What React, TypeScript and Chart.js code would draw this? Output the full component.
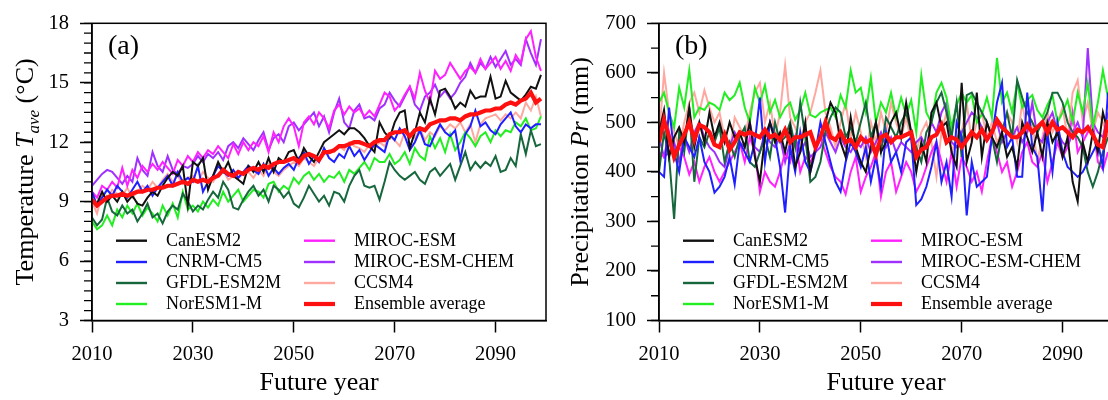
import React, { useEffect, useRef } from 'react';
import { Chart, registerables } from 'chart.js';

Chart.register(...registerables);

const SERIF = '"Liberation Serif", "Times New Roman", Times, serif';

// ---------- categories ----------
const years = [
  2010, 2011, 2012, 2013, 2014, 2015, 2016, 2017, 2018, 2019,
  2020, 2021, 2022, 2023, 2024, 2025, 2026, 2027, 2028, 2029,
  2030, 2031, 2032, 2033, 2034, 2035, 2036, 2037, 2038, 2039,
  2040, 2041, 2042, 2043, 2044, 2045, 2046, 2047, 2048, 2049,
  2050, 2051, 2052, 2053, 2054, 2055, 2056, 2057, 2058, 2059,
  2060, 2061, 2062, 2063, 2064, 2065, 2066, 2067, 2068, 2069,
  2070, 2071, 2072, 2073, 2074, 2075, 2076, 2077, 2078, 2079,
  2080, 2081, 2082, 2083, 2084, 2085, 2086, 2087, 2088, 2089,
  2090, 2091, 2092, 2093, 2094, 2095, 2096, 2097, 2098, 2099,
];

const seriesNames = [
  'CanESM2', 'CNRM-CM5', 'GFDL-ESM2M', 'NorESM1-M',
  'MIROC-ESM', 'MIROC-ESM-CHEM', 'CCSM4', 'Ensemble average',
];
const seriesColors = [
  '#111111', '#1f1fff', '#17673d', '#22ee22',
  '#ff22ff', '#a030ff', '#ffa8a0', '#ff1010',
];

const xTicks = [2010, 2030, 2050, 2070, 2090];
const tempTicks = [3, 6, 9, 12, 15, 18];
const precTicks = [100, 200, 300, 400, 500, 600, 700];

// ---------- (a) temperature, °C ----------
const tCanESM2 = [
  9.0, 8.9, 9.5, 9.0, 9.3, 9.0, 9.5, 9.0, 9.3, 8.9,
  8.8, 9.2, 9.5, 9.3, 9.8, 10.2, 10.5, 10.3, 10.8, 8.8,
  11.0, 10.8, 11.2, 9.6, 10.3, 11.0, 10.5, 11.0, 10.3, 10.1,
  9.9, 10.8, 10.5, 11.0, 10.5, 11.2, 10.5, 11.2, 11.0, 11.5,
  11.6, 11.0, 11.7, 11.3, 11.0, 11.5, 12.0, 12.2, 12.4, 12.6,
  12.4, 12.7, 12.7, 12.5, 12.2, 11.8, 11.5, 13.0, 12.5, 12.2,
  13.0, 13.5, 13.6, 11.7, 12.5, 13.5, 13.0, 14.2, 13.4, 14.6,
  14.7, 14.3, 13.7, 14.0, 13.8, 14.6, 14.2, 14.3, 14.3, 15.3,
  14.2, 14.3, 15.1, 14.5, 14.3, 14.1, 14.4, 14.8, 14.7, 15.4,
];
const tCNRM = [
  9.5, 8.8, 9.2, 9.6, 9.3, 9.8, 9.5, 9.2, 9.6, 10.0,
  9.5, 9.8, 9.3, 9.7, 10.0, 10.3, 9.8, 10.5, 10.0, 10.2,
  10.0, 10.8, 9.5, 10.0, 10.3, 10.8, 10.5, 10.3, 10.6, 10.2,
  10.5, 10.8, 10.6, 10.4, 10.9, 10.3, 10.7, 10.4, 10.7, 10.9,
  10.6, 11.2, 11.5, 10.9, 11.3, 11.0, 11.7, 11.2, 11.0, 11.4,
  11.2, 11.8, 11.3, 11.6, 11.1, 11.5, 11.9, 11.7, 11.5, 12.4,
  12.1, 12.7, 12.3, 11.6, 12.0, 12.6, 11.9, 11.8, 12.4, 12.9,
  12.5, 12.3, 12.6, 11.1, 12.4, 12.8, 13.6, 12.8, 13.0, 12.6,
  12.4, 12.9, 13.2, 13.5, 12.8, 12.5, 12.9, 12.7, 12.9, 12.9,
];
const tGFDL = [
  8.2, 7.8, 8.1, 9.2, 8.5, 8.3, 8.8, 8.4, 8.6, 8.0,
  8.4, 8.9, 8.2, 8.4, 7.9, 8.5, 8.8, 8.6, 9.4, 9.0,
  8.5, 8.8, 8.6, 9.1, 9.5, 9.2, 10.0, 9.6, 8.7, 8.6,
  9.1, 9.5, 9.8, 9.3, 9.6, 9.0, 9.8, 9.6, 9.2, 9.5,
  8.9, 8.7, 9.2, 9.8, 9.4, 9.0, 9.3, 8.8, 9.5, 9.4,
  9.0, 9.8, 10.3, 10.6, 9.8, 9.7, 9.8, 9.1, 10.0, 11.0,
  10.6, 10.3, 10.1, 10.3, 10.5, 10.1, 9.9, 10.5, 10.7, 10.3,
  10.6, 10.9, 10.1, 10.8, 11.5, 10.6, 11.0, 10.7, 11.0, 10.8,
  11.3, 10.5, 10.6, 11.2, 10.8, 12.4, 11.4, 12.6, 11.8, 11.9,
];
const tNorESM = [
  8.0, 7.6, 7.8, 8.3, 7.8, 8.6, 8.2, 8.8, 8.4, 8.9,
  8.3, 8.7, 8.4, 8.0, 8.8, 8.3, 8.9, 8.2, 9.5, 8.6,
  8.8, 8.5, 9.0, 8.7, 9.1, 8.8, 9.5, 9.0, 9.3, 9.6,
  9.0, 9.3, 9.6, 9.5, 9.2, 9.9, 10.0, 9.5, 9.8, 9.6,
  10.2, 9.9, 10.3, 10.5, 10.1, 10.4, 10.0, 10.3, 10.2, 10.5,
  10.0, 10.6, 10.4, 10.7, 11.0, 10.6, 11.2, 11.0, 11.0, 11.4,
  10.9, 11.1, 11.5, 10.9, 11.7, 11.3, 11.1, 12.3, 11.7, 12.2,
  11.5, 12.4, 11.6, 12.0, 12.5, 12.2, 11.8, 12.3, 12.5, 12.0,
  12.6, 12.3, 12.6, 12.5, 13.0, 12.8, 13.2, 12.6, 12.7, 13.3,
];
const tMIROC = [
  9.5, 9.2, 9.8, 9.6, 10.0, 9.7, 10.7, 9.8, 10.6, 10.2,
  10.8, 10.5, 10.9, 10.6, 11.0, 10.7, 10.4, 11.1, 10.8, 11.3,
  11.0, 11.5, 11.2, 11.6, 11.4, 11.8, 11.5, 11.2, 11.9, 11.4,
  12.0, 11.6, 12.0, 11.8, 12.3, 11.5, 12.5, 12.0, 12.8, 13.2,
  12.8, 11.8, 13.0, 13.3, 12.9, 13.5, 13.2, 12.7, 13.6, 13.9,
  13.4, 13.8, 13.5, 13.7, 13.3, 13.6, 13.3, 13.9, 14.5, 14.3,
  13.6, 13.9, 14.4, 14.8, 14.2, 15.5, 14.6, 14.0, 15.6, 15.2,
  15.4, 16.0, 15.6, 15.2, 15.6, 15.8, 15.5, 16.2, 15.7, 16.0,
  16.3, 15.7, 16.1, 15.6, 16.4, 16.0, 17.2, 17.6, 16.3, 15.6,
];
const tMIROCCHEM = [
  9.8, 10.1, 10.4, 10.6, 10.5, 10.2, 9.9, 10.3, 10.0, 11.2,
  10.6, 10.3, 11.5, 10.8, 10.5, 11.3, 10.6, 10.4, 10.8, 10.7,
  10.9, 11.3, 11.0, 11.4, 11.2, 11.5, 11.1, 11.8, 12.0, 11.7,
  12.2, 11.9, 11.6, 12.1, 12.5, 11.6, 12.2, 12.4, 12.0, 12.8,
  13.0, 12.6, 12.9, 13.2, 13.5, 12.8, 13.3, 12.5, 13.5, 14.2,
  13.0, 12.7, 13.6, 13.9, 13.2, 13.3, 13.1, 13.7, 13.9, 14.5,
  14.1, 13.8, 14.3, 14.8, 13.9, 13.6, 14.3, 14.5, 14.9, 14.3,
  14.6, 14.2, 14.5, 15.0, 15.3, 16.0, 15.5, 16.0, 15.7, 16.3,
  15.8, 16.2, 16.6, 15.9, 16.2, 15.9, 17.2, 16.5, 15.9, 17.2,
];
const tCCSM4 = [
  9.0, 8.4, 9.4, 9.1, 9.6, 9.4, 9.3, 9.7, 9.2, 9.5,
  9.8, 9.6, 10.0, 9.7, 10.1, 10.4, 10.0, 10.3, 9.9, 10.2,
  10.3, 10.0, 10.5, 10.2, 10.0, 10.4, 10.6, 10.1, 10.3, 10.2,
  10.4, 10.5, 10.2, 10.6, 10.3, 10.9, 10.5, 10.3, 10.6, 10.8,
  11.0, 10.8, 11.2, 11.0, 10.8, 11.2, 11.4, 11.6, 11.5, 11.8,
  11.6, 12.0, 11.8, 11.7, 11.5, 11.9, 11.7, 12.0, 11.8, 12.3,
  12.1, 11.8, 12.5, 12.4, 12.2, 12.7, 12.1, 12.5, 12.3, 12.8,
  12.6, 12.9, 12.7, 13.0, 12.5, 12.9, 12.0, 12.9, 13.2, 13.3,
  13.4, 13.1, 13.4, 13.2, 13.5, 13.2, 14.0, 13.6, 14.3, 13.3,
];
const tEnsemble = [
  9.1, 8.8, 9.0, 9.2, 9.3, 9.3, 9.4, 9.3, 9.4, 9.5,
  9.5, 9.6, 9.6, 9.7, 9.7, 9.8, 9.8, 9.9, 10.0, 9.9,
  10.1, 10.0, 10.1, 10.0, 10.2, 10.3, 10.6, 10.4, 10.3, 10.5,
  10.4, 10.6, 10.7, 10.6, 10.8, 10.7, 10.9, 11.0, 11.0, 11.1,
  11.2, 11.0, 11.3, 11.4, 11.3, 11.1, 11.5, 11.5, 11.6, 11.8,
  11.8, 11.9, 12.0, 12.0, 11.9, 11.8, 12.0, 12.1, 12.1, 12.4,
  12.5, 12.5, 12.6, 12.3, 12.6, 12.7, 12.6, 12.9, 13.0, 13.1,
  13.1, 13.2, 13.2, 13.1, 13.3, 13.4, 13.4, 13.5, 13.6, 13.6,
  13.7, 13.7, 13.9, 14.0, 13.9, 14.1, 14.2, 14.5, 14.0, 14.2,
];

// ---------- (b) precipitation, mm ----------
const pCanESM2 = [
  480, 525, 430, 470, 490, 460, 530, 450, 500, 460,
  520, 470, 500, 460, 500, 470, 480, 450, 500, 430,
  380, 470, 500, 460, 480, 440, 490, 410, 440, 500,
  400, 450, 470, 500, 540, 520, 460, 430, 510, 450,
  420, 400, 450, 500, 440, 460, 500, 520, 470, 540,
  480, 400, 460, 420, 520, 540, 490, 500, 440, 410,
  580, 420, 460, 560, 430, 500, 470, 450, 480, 430,
  450, 410, 500, 470, 440, 480, 430, 500, 460, 480,
  430, 470, 380, 340, 460, 420, 480, 440, 520, 480,
];
const pCNRM = [
  400, 390, 530, 440, 400, 470, 450, 430, 470, 420,
  400, 358, 370, 390, 430, 375, 460, 440, 420, 460,
  550, 420, 500, 470, 410, 318, 450, 400, 480, 420,
  400, 440, 500, 460, 420, 380, 360, 420, 460, 440,
  410, 450, 380, 430, 370, 480, 420, 440, 400, 460,
  470, 333, 345, 370, 410, 460, 380, 420, 350, 500,
  470, 312, 420, 370, 380, 390, 470, 540, 580, 450,
  470, 390, 390, 560, 450, 430, 320, 480, 400, 500,
  440, 410, 400, 390, 400, 420, 440, 460, 410, 560,
];
const pGFDL = [
  400, 480, 430, 305, 480, 440, 530, 380, 470, 450,
  480, 460, 490, 420, 460, 430, 470, 490, 420, 410,
  440, 470, 430, 500, 460, 470, 500, 450, 540, 470,
  380, 390, 420, 480, 510, 530, 520, 470, 490, 460,
  500, 540, 470, 500, 440, 510, 490, 470, 500, 520,
  480, 450, 420, 480, 500, 540, 560, 520, 470, 540,
  430, 555, 560, 540, 520, 500, 470, 420, 480, 520,
  470, 585, 550, 520, 500, 480, 500, 520, 560, 560,
  540, 500, 480, 470, 450, 400, 370, 400, 440, 470,
];
const pNorESM = [
  540, 560, 520, 490, 570, 530, 605, 510, 530, 525,
  540, 535, 525, 560, 545, 555, 580, 530, 500, 570,
  540, 575, 520, 545, 510, 530, 540, 505, 525, 560,
  515, 510, 520, 525, 530, 510, 555, 530, 605, 560,
  570, 520, 590, 500, 540, 520, 560, 510, 550, 515,
  545, 480, 595, 520, 500, 560, 580, 550, 490, 535,
  560, 540, 555, 500, 515, 550, 510, 630, 540, 560,
  520, 580, 530, 545, 555, 525, 510, 535, 555, 500,
  520, 545, 500, 560, 520, 580, 490, 540, 605, 550,
];
const pMIROC = [
  440, 430, 480, 430, 450, 430, 395, 420, 380, 410,
  430, 400, 380, 400, 420, 440, 460, 420, 470, 440,
  360, 400, 380, 370, 400, 440, 420, 470, 400, 430,
  420, 440, 470, 440, 410, 390, 380, 355, 400, 430,
  360, 390, 410, 440, 350, 400, 420, 360, 390, 420,
  400, 360, 380, 410, 440, 460, 420, 380, 440, 370,
  430, 410, 380, 400, 360, 420, 470, 440, 400, 420,
  370, 400, 440, 460, 420, 410, 440, 380, 420, 460,
  430, 450, 520, 440, 460, 480, 500, 420, 405, 440,
];
const pMIROCCHEM = [
  470, 430, 440, 460, 420, 470, 440, 480, 500, 470,
  450, 440, 420, 410, 450, 480, 460, 450, 500, 450,
  440, 480, 460, 450, 470, 420, 460, 470, 440, 460,
  430, 440, 450, 480, 460, 440, 470, 450, 440, 460,
  450, 470, 440, 460, 480, 450, 470, 440, 460, 450,
  440, 460, 470, 450, 500, 480, 520, 540, 460, 450,
  480, 500, 520, 510, 490, 470, 480, 500, 460, 480,
  470, 490, 460, 480, 540, 470, 460, 500, 520, 480,
  460, 450, 480, 500, 470, 650, 500, 480, 470, 520,
];
const pCCSM4 = [
  470, 600, 520, 480, 450, 500, 540, 560, 520, 565,
  530, 500, 520, 470, 440, 510, 490, 470, 520, 560,
  580, 500, 540, 470, 520, 615, 510, 490, 460, 500,
  520, 560, 605, 520, 490, 450, 500, 540, 470, 520,
  480, 430, 500, 460, 520, 480, 540, 500, 470, 510,
  460, 440, 480, 500, 460, 390, 480, 520, 440, 470,
  480, 540, 460, 500, 520, 470, 500, 460, 480, 520,
  500, 460, 540, 480, 500, 420, 470, 520, 480, 500,
  530, 470, 560, 585, 500, 540, 480, 520, 500, 470,
];
const pEnsemble = [
  460, 505, 470, 430, 455, 475, 500, 465, 495, 490,
  480, 455, 450, 475, 445, 460, 480, 475, 480, 475,
  470, 485, 470, 475, 465, 485, 460, 470, 470, 475,
  480, 450, 470, 500, 470, 465, 480, 460, 465, 450,
  470, 460, 465, 435, 470, 475, 460, 470, 470, 475,
  480, 430, 445, 450, 470, 475, 495, 460, 470, 465,
  450, 465, 480, 470, 485, 465, 480, 505, 490, 480,
  470, 470, 480, 495, 480, 490, 500, 480, 500, 485,
  490, 480, 470, 485, 480, 490, 475, 455, 450, 505,
];

const tempSeries = [tCanESM2, tCNRM, tGFDL, tNorESM, tMIROC, tMIROCCHEM, tCCSM4, tEnsemble];
const precSeries = [pCanESM2, pCNRM, pGFDL, pNorESM, pMIROC, pMIROCCHEM, pCCSM4, pEnsemble];

type Seg = { t: string; italic?: boolean; sub?: boolean };

interface PanelSpec {
  series: number[][];
  yMin: number;
  yMax: number;
  yTicks: number[];
  minorStep: number;
  canvasW: number;
  areaLeft: number;
  areaRight: number;
  panel: string;
  yTitle: Seg[];
  yTitleX: number;
}

const AREA_TOP = 17.5;
const AREA_BOTTOM = 320.5;
const LEGEND_ROWS = [240.7, 262, 283, 304];

function makeDeco(p: PanelSpec) {
  return {
    id: 'deco',
    afterDraw(chart: any) {
      const { ctx, chartArea: ca } = chart;
      const ys = chart.scales.y;
      ctx.save();
      // frame
      ctx.strokeStyle = '#000';
      ctx.lineWidth = 1.5;
      ctx.strokeRect(ca.left, ca.top, ca.right - ca.left, ca.bottom - ca.top);
      // minor ticks
      ctx.lineWidth = 1.3;
      ctx.beginPath();
      const n = Math.round((p.yMax - p.yMin) / p.minorStep);
      for (let k = 0; k <= n; k++) {
        const py = ys.getPixelForValue(p.yMin + k * p.minorStep);
        ctx.moveTo(ca.left - 8, py);
        ctx.lineTo(ca.left, py);
      }
      ctx.stroke();

      ctx.fillStyle = '#000';
      // panel label
      ctx.font = `28px ${SERIF}`;
      ctx.textAlign = 'left';
      ctx.textBaseline = 'alphabetic';
      ctx.fillText(p.panel, ca.left + 16, 54);

      // x title
      ctx.font = `26px ${SERIF}`;
      ctx.textAlign = 'center';
      ctx.fillText('Future year', (ca.left + ca.right) / 2, 390);

      // y title (rotated, mixed styles)
      const big = 26;
      const small = 17;
      const fontFor = (s: Seg) =>
        `${s.italic ? 'italic ' : ''}${s.sub ? small : big}px ${SERIF}`;
      let total = 0;
      const widths = p.yTitle.map((s) => {
        ctx.font = fontFor(s);
        const w = ctx.measureText(s.t).width;
        total += w;
        return w;
      });
      ctx.save();
      ctx.translate(p.yTitleX, (ca.top + ca.bottom) / 2);
      ctx.rotate(-Math.PI / 2);
      ctx.textAlign = 'left';
      let cx = -total / 2;
      p.yTitle.forEach((s, i) => {
        ctx.font = fontFor(s);
        ctx.fillText(s.t, cx, s.sub ? 6 : 0);
        cx += widths[i];
      });
      ctx.restore();

      // legend
      ctx.font = `18px ${SERIF}`;
      ctx.textAlign = 'left';
      ctx.textBaseline = 'middle';
      chart.data.datasets.forEach((ds: any, i: number) => {
        const col = i < 4 ? 0 : 1;
        const row = i % 4;
        const y = LEGEND_ROWS[row];
        const x0 = ca.left + (col === 0 ? 24 : 212);
        ctx.strokeStyle = ds.borderColor;
        ctx.lineWidth = i === 7 ? 4.2 : 2.4;
        ctx.beginPath();
        ctx.moveTo(x0, y);
        ctx.lineTo(x0 + 31, y);
        ctx.stroke();
        ctx.fillStyle = '#000';
        ctx.fillText(ds.label, x0 + 50, y + 0.5);
      });
      ctx.restore();
    },
  };
}

function buildConfig(p: PanelSpec): any {
  const datasets = seriesNames.map((name, i) => ({
    label: name,
    data: p.series[i].map((v, k) => ({ x: years[k], y: v })),
    borderColor: seriesColors[i],
    backgroundColor: seriesColors[i],
    borderWidth: i === 7 ? 4.2 : 2,
    pointRadius: 0,
    pointHoverRadius: 0,
    fill: false,
    tension: 0,
    order: i === 7 ? 0 : 1,
  }));
  const tickFont = { family: SERIF, size: 20.5 };
  return {
    type: 'line',
    data: { datasets },
    options: {
      animation: false,
      responsive: false,
      maintainAspectRatio: false,
      events: [],
      layout: {
        padding: { left: 0, right: p.canvasW - p.areaRight, top: AREA_TOP, bottom: 0 },
      },
      plugins: { legend: { display: false }, tooltip: { enabled: false } },
      scales: {
        x: {
          type: 'linear',
          min: 2010,
          max: 2100,
          afterBuildTicks: (axis: any) => {
            axis.ticks = xTicks.map((v) => ({ value: v }));
          },
          afterFit: (axis: any) => {
            axis.height = 400 - AREA_BOTTOM;
          },
          ticks: {
            autoSkip: false,
            maxRotation: 0,
            color: '#000',
            font: tickFont,
            padding: 10,
            callback: (v: any) => String(v),
          },
          grid: {
            drawOnChartArea: false,
            drawTicks: true,
            tickLength: 12,
            tickColor: '#000',
            tickWidth: 1.5,
          },
          border: { display: true, color: '#000', width: 1.5 },
        },
        y: {
          type: 'linear',
          min: p.yMin,
          max: p.yMax,
          afterBuildTicks: (axis: any) => {
            axis.ticks = p.yTicks.map((v) => ({ value: v }));
          },
          afterFit: (axis: any) => {
            axis.width = p.areaLeft;
          },
          ticks: {
            autoSkip: false,
            color: '#000',
            font: tickFont,
            padding: 11,
            callback: (v: any) => String(v),
          },
          grid: {
            drawOnChartArea: false,
            drawTicks: true,
            tickLength: 12,
            tickColor: '#000',
            tickWidth: 1.5,
          },
          border: { display: true, color: '#000', width: 1.5 },
        },
      },
    },
    plugins: [makeDeco(p)],
  };
}

const panelA: PanelSpec = {
  series: tempSeries,
  yMin: 3,
  yMax: 18,
  yTicks: tempTicks,
  minorStep: 0.5,
  canvasW: 556,
  areaLeft: 92,
  areaRight: 546,
  panel: '(a)',
  yTitle: [
    { t: 'Temperature ' },
    { t: 'T', italic: true },
    { t: 'ave', italic: true, sub: true },
    { t: ' (°C)' },
  ],
  yTitleX: 33,
};

const panelB: PanelSpec = {
  series: precSeries,
  yMin: 100,
  yMax: 700,
  yTicks: precTicks,
  minorStep: 50,
  canvasW: 570,
  areaLeft: 103,
  areaRight: 557,
  panel: '(b)',
  yTitle: [
    { t: 'Precipitation ' },
    { t: 'Pr', italic: true },
    { t: ' (mm)' },
  ],
  yTitleX: 32,
};

function Panel({ spec, left }: { spec: PanelSpec; left: number }) {
  const ref = useRef<HTMLCanvasElement | null>(null);
  useEffect(() => {
    if (!ref.current) return;
    const chart = new Chart(ref.current, buildConfig(spec));
    return () => chart.destroy();
  }, [spec]);
  return (
    <canvas
      ref={ref}
      width={spec.canvasW}
      height={400}
      style={{ position: 'absolute', left, top: 0, width: spec.canvasW, height: 400, display: 'block' }}
    />
  );
}

export default function App() {
  return (
    <div
      style={{
        position: 'fixed',
        left: 0,
        top: 0,
        width: 1108,
        height: 400,
        overflow: 'hidden',
        background: '#ffffff',
      }}
    >
      <Panel spec={panelA} left={0} />
      <Panel spec={panelB} left={556} />
    </div>
  );
}
